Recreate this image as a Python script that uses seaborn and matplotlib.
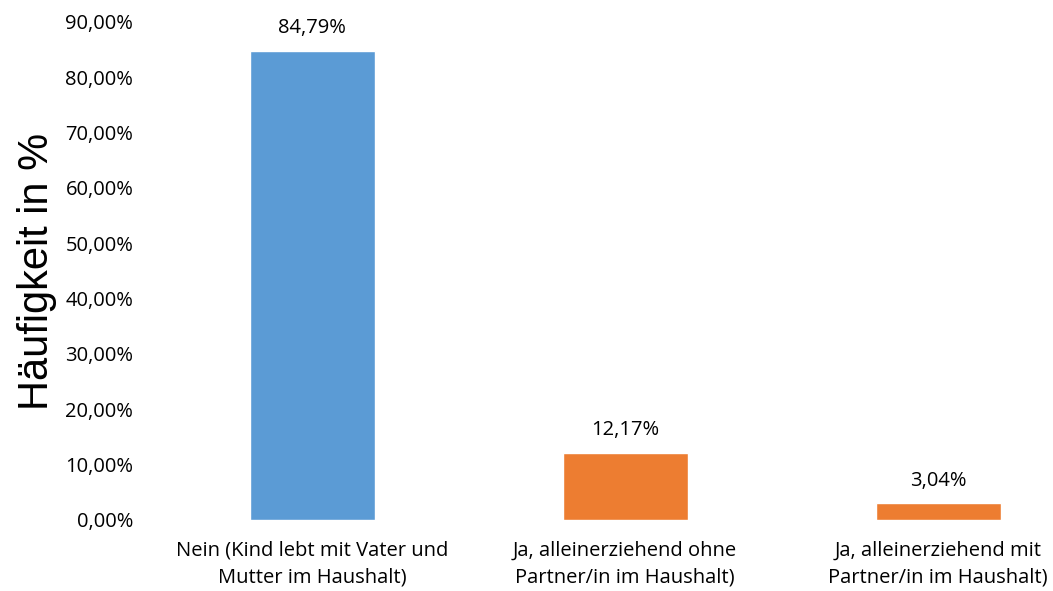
import matplotlib
matplotlib.use("Agg")
import matplotlib.pyplot as plt
import seaborn as sns
import pandas as pd
from matplotlib.ticker import FuncFormatter

categories = [
    "Nein (Kind lebt mit Vater und\nMutter im Haushalt)",
    "Ja, alleinerziehend ohne\nPartner/in im Haushalt)",
    "Ja, alleinerziehend mit\nPartner/in im Haushalt)",
]
values = [84.79, 12.17, 3.04]
colors = ["#5B9BD5", "#ED7D31", "#ED7D31"]
y_ticks = [0, 10, 20, 30, 40, 50, 60, 70, 80, 90]

sns.set_theme(style="white")
plt.rcParams["font.family"] = ["Open Sans", "DejaVu Sans"]

df = pd.DataFrame({"cat": categories, "val": values})

fig = plt.figure(figsize=(10.53, 5.91), dpi=100)
ax = fig.add_axes([150 / 1053, 71 / 591, 903 / 1053, 498 / 591])

sns.barplot(data=df, x="cat", y="val", hue="cat", palette=colors,
            legend=False, width=0.4, saturation=1, ax=ax)

ax.set_ylim(0, 90)
ax.set_xlim(-0.518, 2.367)
ax.set_yticks(y_ticks)
ax.yaxis.set_major_formatter(FuncFormatter(lambda v, p: f"{v:.2f}%".replace(".", ",")))
ax.tick_params(axis="y", labelsize=14.5, length=0, pad=12)
ax.tick_params(axis="x", labelsize=14.5, length=0, pad=15)
for lbl in ax.get_yticklabels():
    lbl.set_color("#000000")
for lbl in ax.get_xticklabels():
    lbl.set_color("#000000")
    lbl.set_linespacing(1.45)

for s in ax.spines.values():
    s.set_visible(False)

for i, v in enumerate(values):
    ax.annotate(f"{v:.2f}%".replace(".", ","), (i, v), xytext=(0, 9),
                textcoords="offset points", ha="center", va="bottom",
                fontsize=14.5, color="#000000")

ax.set_xlabel("")
ax.set_ylabel("Häufigkeit in %", fontsize=30, family="Liberation Sans", color="#000000")
ax.yaxis.set_label_coords(-0.103, 0.5)

fig.savefig("out.png", dpi=100)
